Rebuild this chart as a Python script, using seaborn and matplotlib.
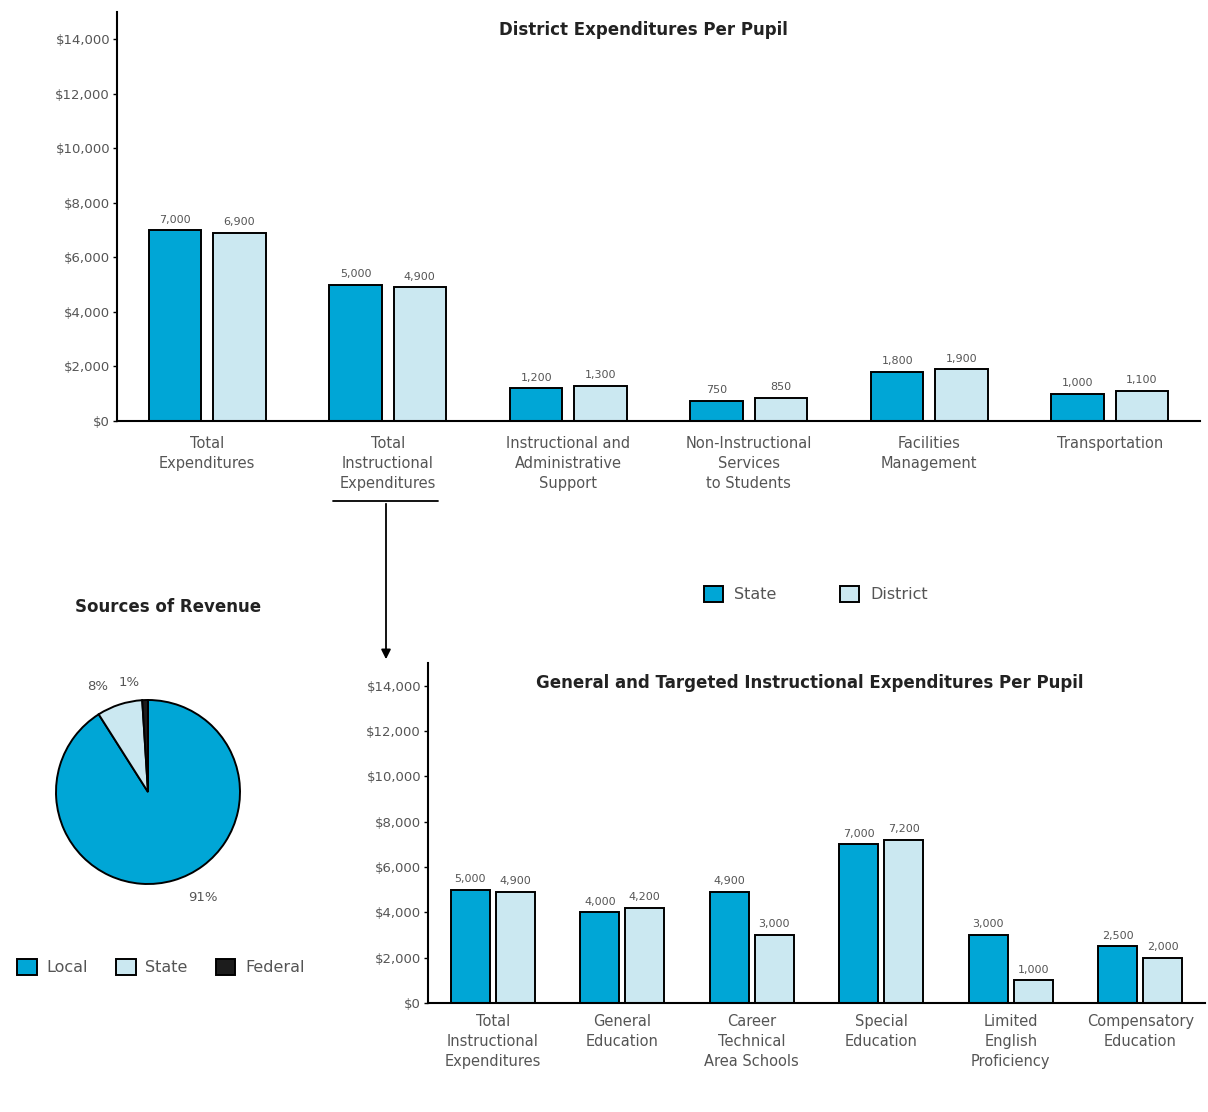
import numpy as np
import pandas as pd
import matplotlib
matplotlib.use("Agg")
import matplotlib.pyplot as plt
from matplotlib.patches import Patch, FancyArrowPatch
import seaborn as sns

# data
top_categories = ["Total\nExpenditures", "Total\nInstructional\nExpenditures",
                  "Instructional and\nAdministrative\nSupport", "Non-Instructional\nServices\nto Students",
                  "Facilities\nManagement", "Transportation"]
top_state = [7000, 5000, 1200, 750, 1800, 1000]
top_district = [6900, 4900, 1300, 850, 1900, 1100]

bot_categories = ["Total\nInstructional\nExpenditures", "General\nEducation",
                  "Career\nTechnical\nArea Schools", "Special\nEducation",
                  "Limited\nEnglish\nProficiency", "Compensatory\nEducation"]
bot_state = [5000, 4000, 4900, 7000, 3000, 2500]
bot_district = [4900, 4200, 3000, 7200, 1000, 2000]

pie_labels = ["Local", "State", "Federal"]
pie_values = [91, 8, 1]

series = ["State", "District"]
DARK = "#00a6d6"
LIGHT = "#cbe8f1"
FED = "#1c1c1c"
GREY = "#555555"

sns.set_theme(style="white")
plt.rcParams['font.family'] = ['DejaVu Sans']

W, H = 1208, 1112
fig = plt.figure(figsize=(W / 100, H / 100), dpi=100)


def px_axes(x0, y0, x1, y1):
    # pixel box (top-left origin) -> figure axes
    return fig.add_axes([x0 / W, 1 - y1 / H, (x1 - x0) / W, (y1 - y0) / H])


def bar_panel(ax, cats, s_vals, d_vals, width, gap, xpad):
    df = pd.DataFrame({
        "category": cats * 2,
        "series": ["State"] * len(cats) + ["District"] * len(cats),
        "value": s_vals + d_vals,
    })
    sns.barplot(data=df, x="category", y="value", hue="series", hue_order=series,
                palette=[DARK, LIGHT], width=width, gap=gap, edgecolor="black",
                linewidth=1.4, saturation=1, legend=False, ax=ax)
    for cont in ax.containers:
        vals = [int(b.get_height()) for b in cont]
        ax.bar_label(cont, labels=[f"{v:,}" for v in vals], padding=4,
                     fontsize=8, color=GREY)
    ax.set_ylim(0, 15000)
    ax.set_xlim(-0.5, len(cats) - 0.5)
    ax.set_yticks(range(0, 14001, 2000))
    ax.set_yticklabels([f"${v:,}" for v in range(0, 14001, 2000)], fontsize=9.5, color=GREY)
    ax.set_xlabel("")
    ax.set_ylabel("")
    ax.tick_params(axis="x", length=0, pad=xpad, labelsize=10.5, labelcolor=GREY)
    for t in ax.get_xticklabels():
        t.set_linespacing(1.42)
    ax.tick_params(axis="y", length=3, width=1, color="black", direction="out", left=True, pad=2)
    for s in ["top", "right"]:
        ax.spines[s].set_visible(False)
    for s in ["left", "bottom"]:
        ax.spines[s].set_color("black")
        ax.spines[s].set_linewidth(1.5)


# top chart
ax1 = px_axes(117, 12, 1200, 421)
bar_panel(ax1, top_categories, top_state, top_district, 0.71, 0.18, 11)
fig.text(643 / W, 1 - 30 / H, "District Expenditures Per Pupil", ha="center", va="center",
         fontsize=12, fontweight="bold", color="#222222")

# bottom chart
ax2 = px_axes(428, 663, 1205, 1003)
bar_panel(ax2, bot_categories, bot_state, bot_district, 0.69, 0.13, 8)
fig.text(810 / W, 1 - 683 / H, "General and Targeted Instructional Expenditures Per Pupil",
         ha="center", va="center", fontsize=12, fontweight="bold", color="#222222")

# bar legend
handles = [Patch(facecolor=DARK, edgecolor="black", linewidth=1.4),
           Patch(facecolor=LIGHT, edgecolor="black", linewidth=1.4)]
fig.legend(handles, series, loc="center", bbox_to_anchor=(816 / W, 1 - 594 / H), ncol=2,
           frameon=False, fontsize=11.5, labelcolor=GREY, handlelength=1.2, handleheight=1.2,
           columnspacing=4.0, handletextpad=0.7)

# connector arrow
fig.add_artist(plt.Line2D([333 / W, 438 / W], [1 - 501 / H, 1 - 501 / H], color="black", lw=1.3))
fig.add_artist(FancyArrowPatch((386 / W, 1 - 501 / H), (386 / W, 1 - 662 / H),
                               transform=fig.transFigure, arrowstyle="-|>",
                               mutation_scale=14, color="black", lw=1.3))

# pie
R = 92
span = 1.3
cx, cy = 148, 792
axp = px_axes(cx - R * span, cy - R * span, cx + R * span, cy + R * span)
axp.pie(pie_values, colors=[DARK, LIGHT, FED], startangle=90, counterclock=False,
        wedgeprops=dict(edgecolor="black", linewidth=1.4))
axp.set_xlim(-span, span)
axp.set_ylim(-span, span)
axp.set_aspect("auto")
axp.axis("off")
axp.text(-0.55, 1.15, f"{pie_values[1]}%", fontsize=9.5, color=GREY, ha="center", va="center")
axp.text(-0.2, 1.19, f"{pie_values[2]}%", fontsize=9.5, color=GREY, ha="center", va="center")
axp.text(0.6, -1.15, f"{pie_values[0]}%", fontsize=9.5, color=GREY, ha="center", va="center")
fig.text(168 / W, 1 - 607 / H, "Sources of Revenue", ha="center", va="center",
         fontsize=12, fontweight="bold", color="#222222")

pie_handles = [Patch(facecolor=c, edgecolor="black", linewidth=1.4) for c in [DARK, LIGHT, FED]]
fig.legend(pie_handles, pie_labels, loc="center", bbox_to_anchor=(161 / W, 1 - 967 / H), ncol=3,
           frameon=False, fontsize=11.5, labelcolor=GREY, handlelength=1.2, handleheight=1.2,
           columnspacing=1.8, handletextpad=0.6)

fig.savefig("out.png", dpi=100)
